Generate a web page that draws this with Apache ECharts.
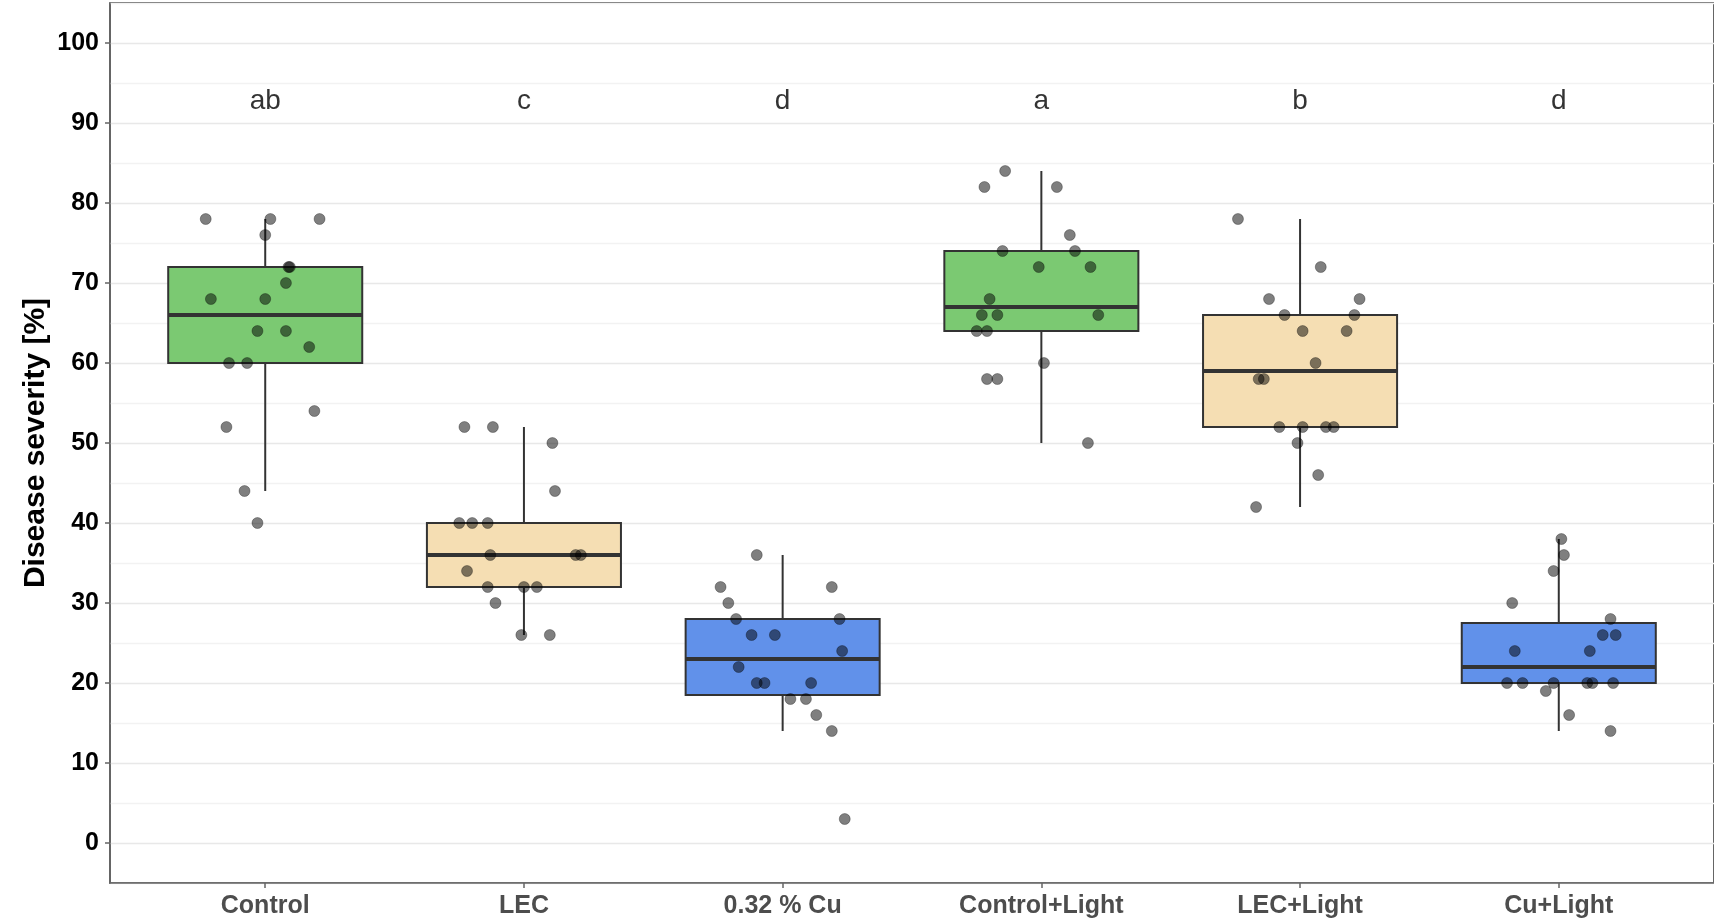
<!DOCTYPE html>
<html>
<head>
<meta charset="utf-8">
<script src="https://cdn.jsdelivr.net/npm/echarts@6/dist/echarts.min.js"></script>
<style>
html,body{margin:0;padding:0;background:#fff;}
#chart{width:1714px;height:919px;}
</style>
</head>
<body>
<div id="chart"></div>
<script>
var categories = ['Control', 'LEC', '0.32 % Cu', 'Control+Light', 'LEC+Light', 'Cu+Light'];
var sigLetters = ['ab', 'c', 'd', 'a', 'b', 'd'];
var letterY = 92.7;
var yTickValues = [0, 10, 20, 30, 40, 50, 60, 70, 80, 90, 100];

var boxMin    = [44, 26, 14,   50, 42, 14];
var boxQ1     = [60, 32, 18.5, 64, 52, 20];
var boxMedian = [66, 36, 23,   67, 59, 22];
var boxQ3     = [72, 40, 28,   74, 66, 27.5];
var boxMax    = [78, 52, 36,   84, 78, 38];

var controlValues = [78, 78, 78, 76, 72, 72, 70, 68, 68, 64, 64, 62, 60, 60, 54, 52, 44, 40];
var controlJitter = [-0.23, 0.02, 0.21, 0.00, 0.09, 0.095, 0.08, -0.21, 0.00, -0.03, 0.08, 0.17, -0.14, -0.07, 0.19, -0.15, -0.08, -0.03];

var lecValues = [52, 52, 50, 44, 40, 40, 40, 36, 36, 36, 34, 32, 32, 32, 30, 26, 26];
var lecJitter = [-0.23, -0.12, 0.11, 0.12, -0.25, -0.20, -0.14, -0.13, 0.20, 0.22, -0.22, -0.14, 0.00, 0.05, -0.11, -0.01, 0.10];

var cuValues = [36, 32, 32, 30, 28, 28, 26, 26, 24, 22, 20, 20, 20, 18, 18, 16, 14, 3];
var cuJitter = [-0.10, -0.24, 0.19, -0.21, -0.18, 0.22, -0.12, -0.03, 0.23, -0.17, -0.10, -0.07, 0.11, 0.03, 0.09, 0.13, 0.19, 0.24];

var controlLightValues = [84, 82, 82, 76, 74, 74, 72, 72, 68, 66, 66, 66, 64, 64, 60, 58, 58, 50];
var controlLightJitter = [-0.14, -0.22, 0.06, 0.11, -0.15, 0.13, -0.01, 0.19, -0.20, -0.23, -0.17, 0.22, -0.25, -0.21, 0.01, -0.21, -0.17, 0.18];

var lecLightValues = [78, 72, 68, 68, 66, 66, 64, 64, 60, 58, 58, 52, 52, 52, 52, 50, 46, 42];
var lecLightJitter = [-0.24, 0.08, -0.12, 0.23, -0.06, 0.21, 0.01, 0.18, 0.06, -0.16, -0.14, -0.08, 0.01, 0.10, 0.13, -0.01, 0.07, -0.17];

var cuLightValues = [38, 36, 34, 30, 28, 26, 26, 24, 24, 20, 20, 20, 20, 20, 20, 19, 16, 14];
var cuLightJitter = [0.01, 0.02, -0.02, -0.18, 0.20, 0.17, 0.22, -0.17, 0.12, -0.20, -0.14, -0.02, 0.11, 0.13, 0.21, -0.05, 0.04, 0.20];

var boxColors = ['#7BC972', '#F5DEB3', '#6191EA', '#7BC972', '#F5DEB3', '#6191EA'];

var groupValues = [controlValues, lecValues, cuValues, controlLightValues, lecLightValues, cuLightValues];
var groupJitter = [controlJitter, lecJitter, cuJitter, controlLightJitter, lecLightJitter, cuLightJitter];

var boxData = categories.map(function (c, i) {
  return [i + 1, boxMin[i], boxQ1[i], boxMedian[i], boxQ3[i], boxMax[i]];
});
var pointData = [];
groupValues.forEach(function (vals, g) {
  vals.forEach(function (v, k) {
    pointData.push([g + 1 + groupJitter[g][k], v]);
  });
});
var letterData = categories.map(function (c, i) { return [i + 1, letterY]; });

var FONT = '"Liberation Sans", Arial, Helvetica, sans-serif';
var chart = echarts.init(document.getElementById('chart'), null, {renderer: 'canvas'});

chart.setOption({
  animation: false,
  backgroundColor: '#ffffff',
  textStyle: {fontFamily: FONT},
  grid: {
    left: 110, right: -2, top: 3, bottom: 36,
    show: true, borderColor: '#333333', borderWidth: 1.5, backgroundColor: 'transparent'
  },
  xAxis: {
    type: 'value', min: 0.4, max: 6.6, position: 'bottom',
    splitLine: {show: false},
    axisLine: {show: true, onZero: false, lineStyle: {color: '#666666', width: 1.5}},
    axisTick: {show: true, customValues: [1, 2, 3, 4, 5, 6], length: 5, lineStyle: {color: '#666666', width: 1.5}},
    axisLabel: {
      show: true, customValues: [1, 2, 3, 4, 5, 6], margin: 11,
      fontSize: 25, fontWeight: 'bold', color: '#4D4D4D', fontFamily: FONT,
      formatter: function (v) { return categories[Math.round(v) - 1] || ''; }
    }
  },
  yAxis: [{
    type: 'value', min: -5, max: 105, interval: 5,
    axisLine: {show: true, onZero: false, lineStyle: {color: '#666666', width: 1.5}},
    axisTick: {show: false},
    axisLabel: {show: false},
    splitLine: {show: true, lineStyle: {color: ['#F2F2F2', '#E8E8E8'], width: 1.3}}
  }, {
    type: 'value', min: -5, max: 105, position: 'left',
    axisLine: {show: false, onZero: false},
    splitLine: {show: false},
    axisTick: {show: true, customValues: yTickValues, length: 5, lineStyle: {color: '#666666', width: 1.5}},
    axisLabel: {
      show: true, customValues: yTickValues, margin: 11,
      fontSize: 25, fontWeight: 'bold', color: '#000000', fontFamily: FONT
    },
    name: 'Disease severity [%]', nameLocation: 'middle', nameGap: 59, nameMoveOverlap: false,
    nameTextStyle: {fontSize: 30, fontWeight: 'bold', color: '#000000', fontFamily: FONT}
  }],
  series: [{
    type: 'custom',
    xAxisIndex: 0, yAxisIndex: 0,
    data: boxData,
    encode: {x: 0, y: [1, 2, 3, 4, 5]},
    z: 2,
    renderItem: function (params, api) {
      var x = api.value(0);
      var lo = api.coord([x, api.value(1)]);
      var q1 = api.coord([x, api.value(2)]);
      var md = api.coord([x, api.value(3)]);
      var q3 = api.coord([x, api.value(4)]);
      var hi = api.coord([x, api.value(5)]);
      var hw = api.size([0.75, 0])[0] / 2;
      var cx = lo[0];
      var ls = {stroke: '#333333', lineWidth: 2};
      return {
        type: 'group',
        children: [
          {type: 'line', shape: {x1: cx, y1: q3[1], x2: cx, y2: hi[1]}, style: ls},
          {type: 'line', shape: {x1: cx, y1: lo[1], x2: cx, y2: q1[1]}, style: ls},
          {type: 'rect', shape: {x: cx - hw, y: q3[1], width: 2 * hw, height: q1[1] - q3[1]},
            style: {fill: boxColors[params.dataIndex], stroke: '#333333', lineWidth: 2}},
          {type: 'line', shape: {x1: cx - hw, y1: md[1], x2: cx + hw, y2: md[1]},
            style: {stroke: '#333333', lineWidth: 4}}
        ]
      };
    }
  }, {
    type: 'scatter',
    xAxisIndex: 0, yAxisIndex: 0,
    data: pointData,
    symbol: 'circle', symbolSize: 11,
    z: 5,
    itemStyle: {color: 'rgba(0,0,0,0.5)', borderColor: 'rgba(0,0,0,0.3)', borderWidth: 1, opacity: 1}
  }, {
    type: 'scatter',
    xAxisIndex: 0, yAxisIndex: 0,
    data: letterData,
    symbol: 'circle', symbolSize: 1,
    itemStyle: {color: 'rgba(0,0,0,0)'},
    z: 6,
    label: {
      show: true, position: 'inside',
      formatter: function (p) { return sigLetters[p.dataIndex]; },
      fontSize: 28, color: '#000000', fontFamily: FONT, fontWeight: 'normal'
    }
  }]
});
</script>
</body>
</html>
